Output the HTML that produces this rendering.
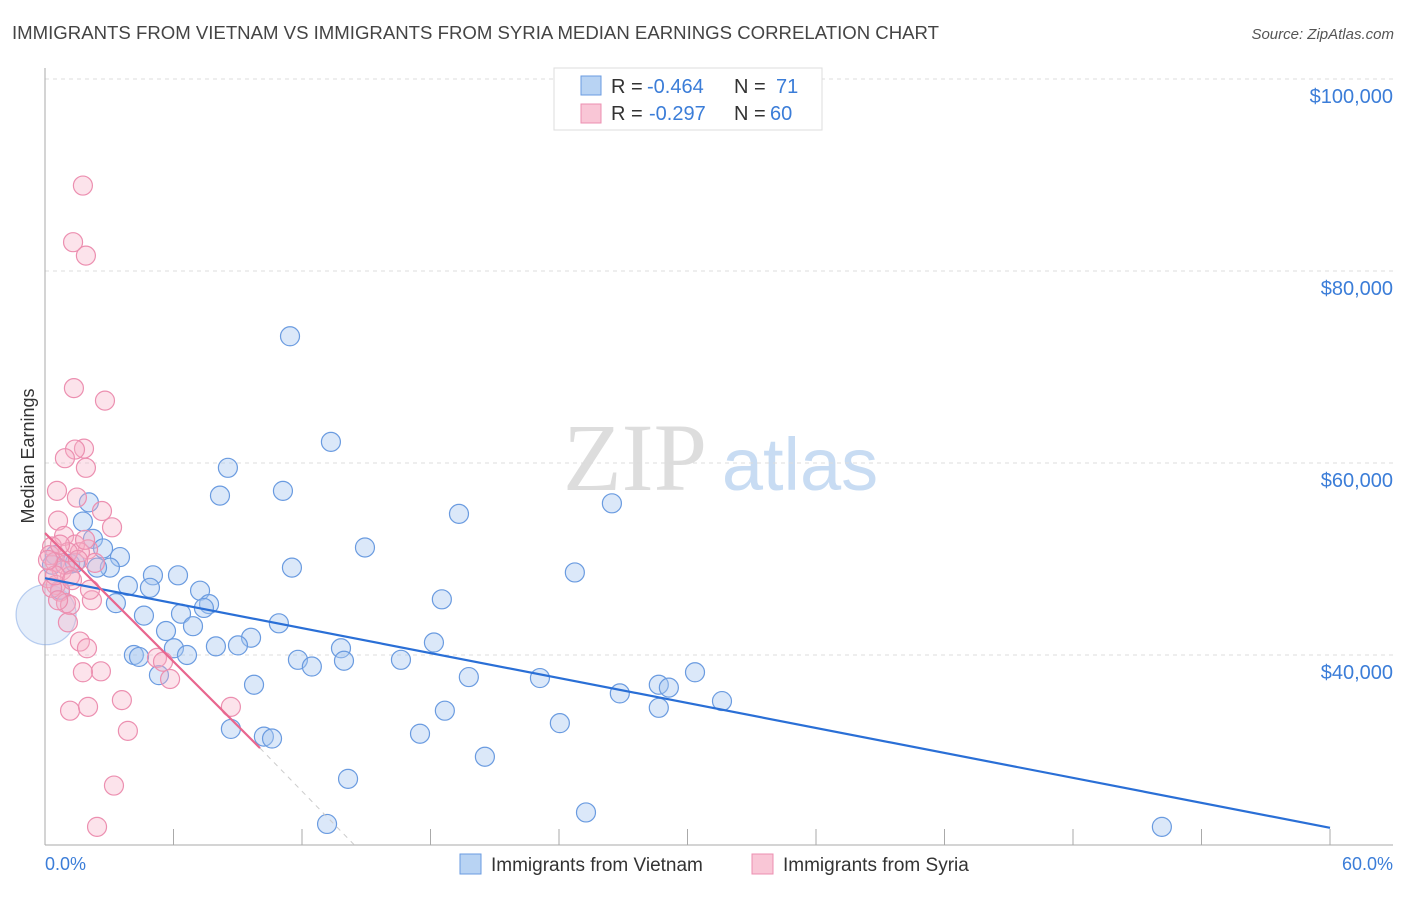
<!DOCTYPE html>
<html><head><meta charset="utf-8"><style>
body{margin:0;background:#fff;width:1406px;height:892px;overflow:hidden;font-family:"Liberation Sans",sans-serif}
</style></head><body>
<svg width="1406" height="892" xmlns="http://www.w3.org/2000/svg">
<text x="12" y="39" font-size="18.6" fill="#444">IMMIGRANTS FROM VIETNAM VS IMMIGRANTS FROM SYRIA MEDIAN EARNINGS CORRELATION CHART</text>
<text x="1394" y="39" font-size="15" fill="#555" font-style="italic" text-anchor="end">Source: ZipAtlas.com</text>
<g>
<text x="635" y="490" font-size="96" font-family="Liberation Serif,serif" fill="#ddd" text-anchor="middle">ZIP</text>
<text x="800" y="490" font-size="74" fill="#c8dcf3" text-anchor="middle">atlas</text>
</g>
<g id="grid"></g><g id="axes"></g><g id="pts"></g><g id="lines"></g>
<text transform="translate(34,456) rotate(-90)" font-size="18" fill="#333" text-anchor="middle">Median Earnings</text>
<text x="45" y="870" font-size="18" fill="#3b7dd8">0.0%</text>
<text x="1393" y="870" font-size="18" fill="#3b7dd8" text-anchor="end">60.0%</text>
<g>
<rect x="554" y="68" width="268" height="62" fill="#fff" stroke="#ddd"/>
<rect x="581" y="76" width="20" height="19" fill="#b8d3f3" stroke="#6a9be0"/>
<rect x="581" y="104" width="20" height="19" fill="#f9c6d6" stroke="#ec8fb0"/>
<text y="93" font-size="20" fill="#333"><tspan x="611">R =</tspan><tspan x="647" fill="#3b7dd8">-0.464</tspan><tspan x="734">N =</tspan><tspan x="776" fill="#3b7dd8">71</tspan></text>
<text y="120" font-size="20" fill="#333"><tspan x="611">R =</tspan><tspan x="649" fill="#3b7dd8">-0.297</tspan><tspan x="734">N =</tspan><tspan x="770" fill="#3b7dd8">60</tspan></text>
</g>
<g>
<rect x="460" y="854" width="21" height="20" fill="#b8d3f3" stroke="#6a9be0"/>
<text x="491" y="871" font-size="19" fill="#333">Immigrants from Vietnam</text>
<rect x="752" y="854" width="21" height="20" fill="#f9c6d6" stroke="#ec8fb0"/>
<text x="783" y="871" font-size="19" fill="#333">Immigrants from Syria</text>
</g>
</svg>
<script>
const yTicks=[100,80,60,40];
const yTickLabels=["$100,000","$80,000","$60,000","$40,000"];
const xTicks=[0,6,12,18,24,30,36,42,48,54,60];
const blueX=[11.44,13.35,8.54,8.17,11.11,2.05,1.77,19.33,26.47,14.94,2.24,3.5,11.53,24.74,3.03,5.04,6.21,3.87,4.9,7.24,18.53,3.31,7.66,6.35,4.62,7.42,6.91,10.92,5.65,9.62,18.16,9.01,7.98,13.82,6.02,4.15,4.39,6.63,11.81,12.46,13.96,16.62,5.32,19.79,23.11,30.35,28.66,29.13,26.84,9.76,31.61,28.66,18.67,24.04,8.68,10.22,10.6,17.51,20.54,14.15,25.26,13.17,52.15,2.71,1.17,0.47,0.7,0.33,1.4,2.43];
const blueY=[73.2,62.2,59.5,56.6,57.1,55.9,53.9,54.7,55.8,51.2,52.1,50.2,49.1,48.6,49.1,48.3,48.3,47.2,47.0,46.7,45.8,45.4,45.3,44.3,44.1,44.9,43.0,43.3,42.5,41.8,41.3,41.0,40.9,40.7,40.7,40.0,39.8,40.0,39.5,38.8,39.4,39.5,37.9,37.7,37.6,38.2,36.9,36.6,36.0,36.9,35.2,34.5,34.2,32.9,32.3,31.5,31.3,31.8,29.4,27.1,23.6,22.4,22.1,51.1,49.5,50.4,46.8,49.4,49.6,49.1];
const blueBigX=[0.05], blueBigY=[44.2];
const pinkX=[1.77,1.31,1.91,1.35,2.8,1.82,1.4,0.93,1.91,0.56,1.49,2.66,3.13,0.61,0.89,2.01,1.4,0.33,0.23,0.47,0.79,1.17,0.14,0.51,0.7,2.19,0.98,1.17,1.07,1.63,1.96,2.61,1.77,5.23,5.51,5.84,3.59,1.17,2.01,8.68,3.87,3.22,2.43,2.33,0.93,1.63,0.33,0.47,2.1,1.07,1.87,1.54,0.7,1.26,0.14,0.61];
const pinkY=[88.9,83.0,81.6,67.8,66.5,61.5,61.4,60.5,59.5,57.1,56.4,55.0,53.3,54.0,52.4,51.0,51.5,51.3,50.4,49.7,48.8,48.2,48.0,47.3,46.6,45.7,45.4,45.2,43.4,41.4,40.7,38.3,38.2,39.7,39.3,37.5,35.3,34.2,34.6,34.6,32.1,26.4,22.1,49.6,49.4,50.7,47.0,48.3,46.8,50.7,52.0,49.9,51.5,47.8,49.9,45.7];
const blueTrendX=[0,60], blueTrendY=[48.0,22.0];
const pinkTrendX=[0,10.04], pinkTrendY=[52.7,30.3];
const pinkDashX=[10.04,14.45], pinkDashY=[30.3,20.2];

const X0=45,X1=1330,Y100=79,PXK=9.6;
const sx=v=>X0+(X1-X0)*v/60;
const sy=v=>Y100+(100-v)*PXK;
const NS="http://www.w3.org/2000/svg";
function mk(p,t,a){const e=document.createElementNS(NS,t);for(const k in a)e.setAttribute(k,a[k]);document.getElementById(p).appendChild(e);return e;}
yTicks.forEach((v,i)=>{
 const g=mk('grid','line',{x1:45,x2:1393,y1:sy(v),y2:sy(v),stroke:'#dcdcdc','stroke-dasharray':'4,4'});
 
 
 const t=mk('grid','text',{x:1393,y:sy(v)+24,'font-size':20,fill:'#3b7dd8','text-anchor':'end'});
 t.textContent=yTickLabels[i];
 
 
});
const ax=mk('axes','line',{x1:45,x2:45,y1:68,y2:845,stroke:'#aaa'});


const bx=mk('axes','line',{x1:45,x2:1393,y1:845,y2:845,stroke:'#aaa'});


xTicks.forEach(v=>{const t=mk('axes','line',{x1:sx(v),x2:sx(v),y1:829,y2:845,stroke:'#aaa'});
 
 });
function dots(xs,ys,r,fill,stroke,name){xs.forEach((x,i)=>{const c=mk('pts','circle',{cx:sx(x),cy:sy(ys[i]),r:r,fill:fill,stroke:stroke,'stroke-width':1.2});
 
 });}
dots(blueBigX,blueBigY,30,'rgba(170,200,240,0.3)','rgba(120,160,225,0.5)','vietnam-point');
dots(blueX,blueY,9.5,'rgba(165,198,240,0.4)','#6a9be0','vietnam-point');
dots(pinkX,pinkY,9.5,'rgba(245,175,198,0.35)','#ec8fb0','syria-point');
function ln(xs,ys,st,w,d,name){const l=mk('lines','line',{x1:sx(xs[0]),y1:sy(ys[0]),x2:sx(xs[1]),y2:sy(ys[1]),stroke:st,'stroke-width':w});if(d)l.setAttribute('stroke-dasharray',d);
 
 }
ln(blueTrendX,blueTrendY,'#2a6fd6',2.2,null,'vietnam-trendline');
ln(pinkTrendX,pinkTrendY,'#e8668e',2.2,null,'syria-trendline');
ln(pinkDashX,pinkDashY,'#ccc',1,'5,5','syria-trendline-extension');
</script>
</body></html>
